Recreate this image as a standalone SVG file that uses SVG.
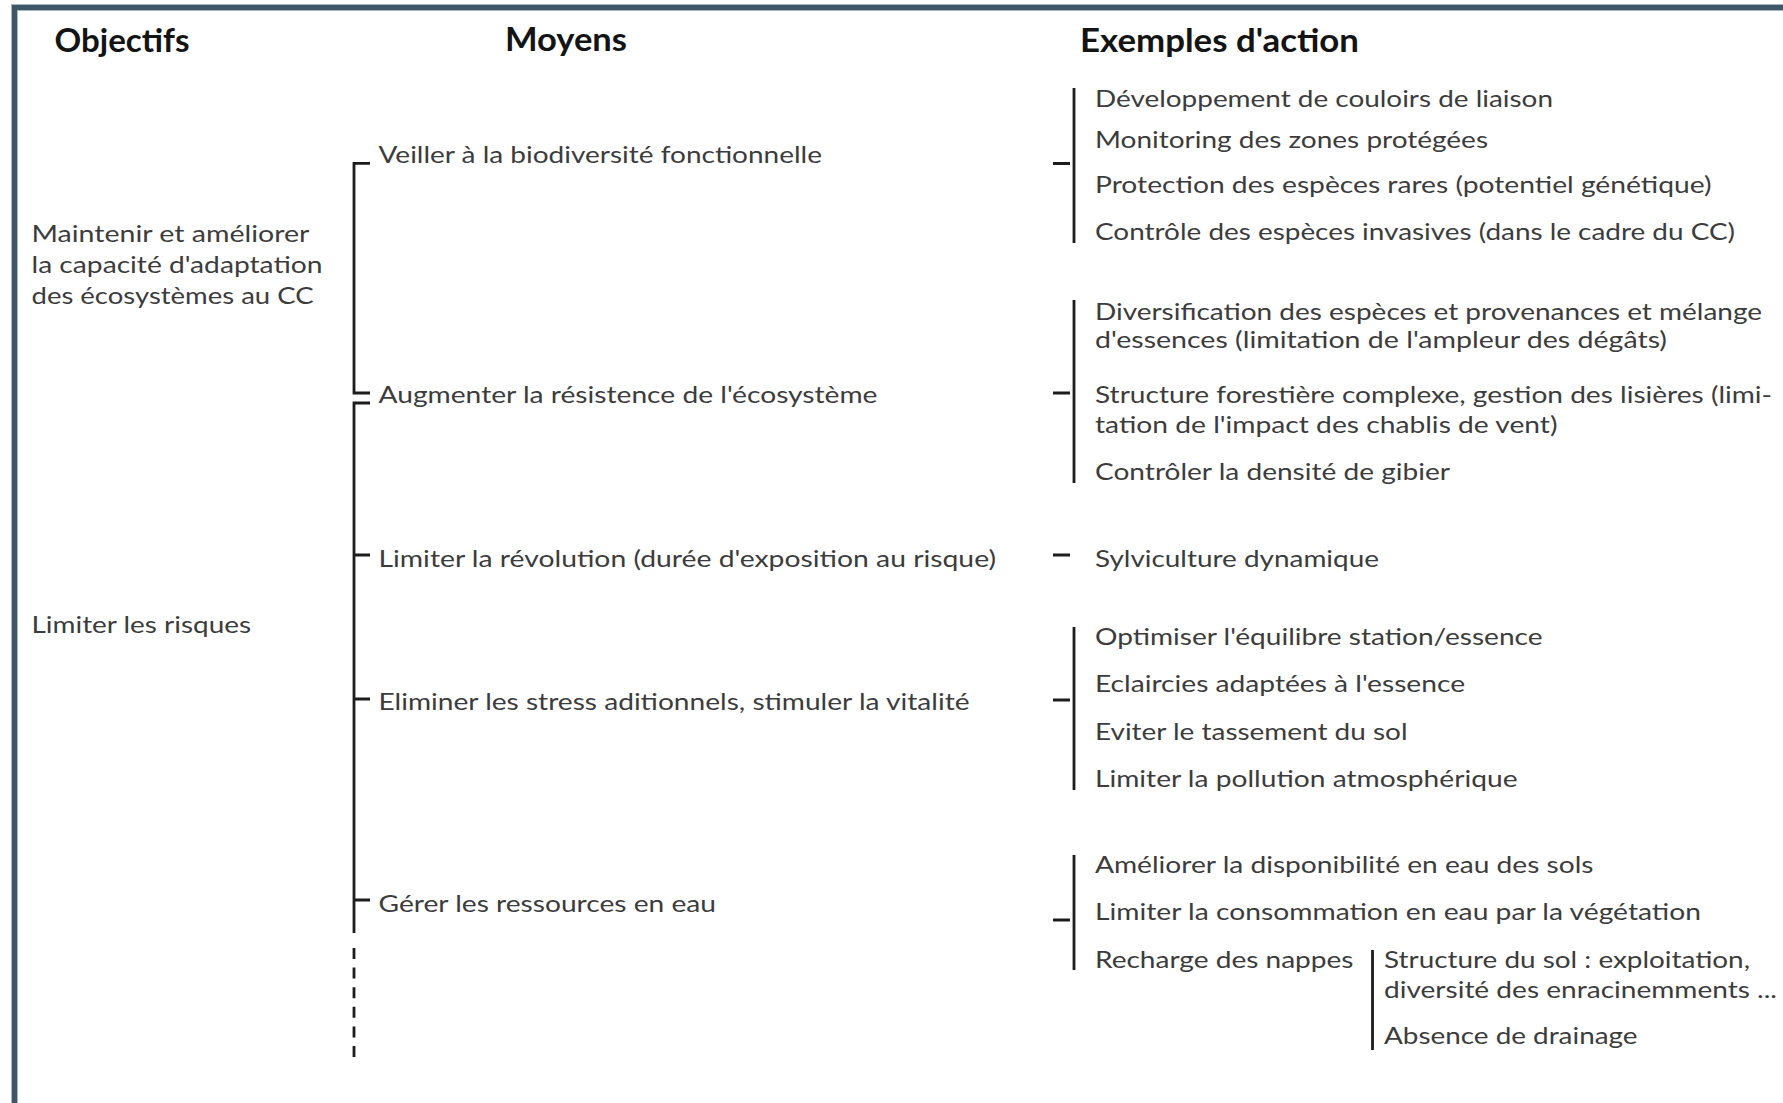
<svg xmlns="http://www.w3.org/2000/svg" width="1783" height="1103" viewBox="0 0 1783 1103">
<style>
.h{font-family:Lato,"Open Sans","Liberation Sans",sans-serif;font-weight:bold;font-size:33px;fill:#141414}
.t{font-family:Lato,"Open Sans","Liberation Sans",sans-serif;font-size:23px;fill:#3c3c3c}
.ln{stroke:#1c1c1c;stroke-width:2.8;fill:none}
.tk{stroke:#1c1c1c;stroke-width:3.2;fill:none}
.fr{stroke:#3f5667;stroke-width:5;fill:none}
</style>
<rect width="1783" height="1103" fill="#fff"/>
<g id="frame">
<path d="M14.5 1103 V7.5 H1783" stroke="#a9b5bf" stroke-width="7" fill="none"/>
<path class="fr" d="M14.5 1103 V7.5 H1783"/>
</g>
<g id="headers">
<text class="h" x="54.5" y="51.5" textLength="135" lengthAdjust="spacingAndGlyphs">Objectifs</text>
<text class="h" x="505" y="50.5" textLength="122" lengthAdjust="spacingAndGlyphs">Moyens</text>
<text class="h" x="1080" y="51.5" textLength="279" lengthAdjust="spacingAndGlyphs">Exemples d'action</text>
</g>
<g id="objectif-1">
<text class="t" x="31.5" y="241.7" textLength="278" lengthAdjust="spacingAndGlyphs">Maintenir et améliorer</text>
<text class="t" x="31.5" y="273" textLength="291" lengthAdjust="spacingAndGlyphs">la capacité d'adaptation</text>
<text class="t" x="31.5" y="304.3" textLength="282" lengthAdjust="spacingAndGlyphs">des écosystèmes au CC</text>
</g>
<g id="objectif-2">
<text class="t" x="31.5" y="633" textLength="219.5" lengthAdjust="spacingAndGlyphs">Limiter les risques</text>
</g>
<g id="moyen-1">
<text class="t" x="378.5" y="163" textLength="443.5" lengthAdjust="spacingAndGlyphs">Veiller à la biodiversité fonctionnelle</text>
</g>
<g id="moyen-2">
<text class="t" x="378.5" y="403" textLength="499" lengthAdjust="spacingAndGlyphs">Augmenter la résistence de l'écosystème</text>
</g>
<g id="moyen-3">
<text class="t" x="378.5" y="566.7" textLength="617.5" lengthAdjust="spacingAndGlyphs">Limiter la révolution (durée d'exposition au risque)</text>
</g>
<g id="moyen-4">
<text class="t" x="378.5" y="710" textLength="591" lengthAdjust="spacingAndGlyphs">Eliminer les stress aditionnels, stimuler la vitalité</text>
</g>
<g id="moyen-5">
<text class="t" x="378.5" y="911.7" textLength="337.5" lengthAdjust="spacingAndGlyphs">Gérer les ressources en eau</text>
</g>
<g id="actions-1">
<text class="t" x="1095" y="106.7" textLength="458" lengthAdjust="spacingAndGlyphs">Développement de couloirs de liaison</text>
<text class="t" x="1095" y="148.3" textLength="393" lengthAdjust="spacingAndGlyphs">Monitoring des zones protégées</text>
<text class="t" x="1095" y="193.3" textLength="616.5" lengthAdjust="spacingAndGlyphs">Protection des espèces rares (potentiel génétique)</text>
<text class="t" x="1095" y="240" textLength="640" lengthAdjust="spacingAndGlyphs">Contrôle des espèces invasives (dans le cadre du CC)</text>
</g>
<g id="actions-2">
<text class="t" x="1095" y="320" textLength="667" lengthAdjust="spacingAndGlyphs">Diversification des espèces et provenances et mélange</text>
<text class="t" x="1095" y="348.3" textLength="572" lengthAdjust="spacingAndGlyphs">d'essences (limitation de l'ampleur des dégâts)</text>
<text class="t" x="1095" y="403.3" textLength="677" lengthAdjust="spacingAndGlyphs">Structure forestière complexe, gestion des lisières (limi-</text>
<text class="t" x="1095" y="433.3" textLength="462.5" lengthAdjust="spacingAndGlyphs">tation de l'impact des chablis de vent)</text>
<text class="t" x="1095" y="480" textLength="355" lengthAdjust="spacingAndGlyphs">Contrôler la densité de gibier</text>
</g>
<g id="actions-3">
<text class="t" x="1095" y="566.7" textLength="284" lengthAdjust="spacingAndGlyphs">Sylviculture dynamique</text>
</g>
<g id="actions-4">
<text class="t" x="1095" y="645" textLength="447.5" lengthAdjust="spacingAndGlyphs">Optimiser l'équilibre station/essence</text>
<text class="t" x="1095" y="691.7" textLength="370" lengthAdjust="spacingAndGlyphs">Eclaircies adaptées à l'essence</text>
<text class="t" x="1095" y="740" textLength="312.5" lengthAdjust="spacingAndGlyphs">Eviter le tassement du sol</text>
<text class="t" x="1095" y="786.7" textLength="422.5" lengthAdjust="spacingAndGlyphs">Limiter la pollution atmosphérique</text>
</g>
<g id="actions-5">
<text class="t" x="1095" y="873.3" textLength="498.5" lengthAdjust="spacingAndGlyphs">Améliorer la disponibilité en eau des sols</text>
<text class="t" x="1095" y="920" textLength="606" lengthAdjust="spacingAndGlyphs">Limiter la consommation en eau par la végétation</text>
<text class="t" x="1095" y="968.3" textLength="258.5" lengthAdjust="spacingAndGlyphs">Recharge des nappes</text>
</g>
<g id="actions-5-sub">
<text class="t" x="1384" y="968.3" textLength="366" lengthAdjust="spacingAndGlyphs">Structure du sol : exploitation,</text>
<text class="t" x="1384" y="998" textLength="393" lengthAdjust="spacingAndGlyphs">diversité des enracinemments ...</text>
<text class="t" x="1384" y="1043.5" textLength="253.5" lengthAdjust="spacingAndGlyphs">Absence de drainage</text>
</g>
<g id="connectors">
<path class="ln" d="M370 163.3 H354 V393 H370"/>
<path class="ln" d="M370 403 H354 V933"/>
<path class="ln" d="M354 555 H370 M354 699 H370 M354 900 H370"/>
<path class="ln" d="M354 948 V1062" stroke-dasharray="11 8.6"/>
<path class="ln" d="M1074 88 V243 M1074 300 V483 M1074 627 V790 M1074 855 V970 M1372.5 950 V1050"/>
<path class="tk" d="M1053 163.5 H1070 M1053 393 H1070 M1053 555 H1070 M1053 700 H1070 M1053 920 H1070"/>
</g>
</svg>
